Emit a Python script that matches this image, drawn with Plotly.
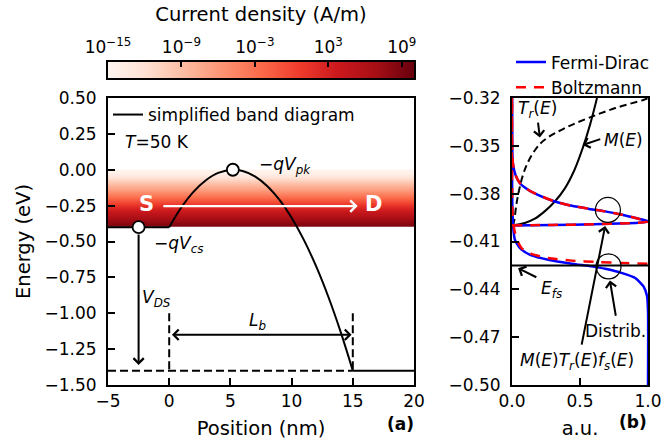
import plotly.graph_objects as go

FONT = "DejaVu Sans"

# ---------------- panel (a): simplified band diagram ----------------
barrier_x = [0, 1, 2, 3, 4, 5.2, 6, 7, 8, 9, 10, 11, 12, 13, 14, 15]
barrier_E = [-0.400, -0.261, -0.152, -0.073, -0.022, 0.000, -0.009, -0.046,
             -0.113, -0.209, -0.334, -0.489, -0.672, -0.885, -1.128, -1.400]
flat_x = [-5, 0, None, 15, 20]
flat_E = [-0.4, -0.4, None, -1.4, -1.4]
drain_ref_x = [-5, 15]
drain_ref_E = [-1.4, -1.4]
edge_x = [0, 0, None, 15, 15]
edge_E = [-1.0, -1.4, None, -1.0, -1.4]
marker_x = [-2.5, 5.2]
marker_E = [-0.4, 0.0]

# current density band (log10 of A/m) vs energy
band_E = [-0.38, -0.34, -0.30, -0.26, -0.22, -0.18, -0.14, -0.10, -0.06, -0.02]
band_logJ = [8.6, 6.8, 4.5, 2.0, -0.5, -3.5, -6.5, -9.0, -11.5, -14.5]
band_x = [-5, 20]

cb_range = [-15, 10]
cb_ticks = [-15, -9, -3, 3, 9]
cb_ticktext = ["10<sup>−15</sup>", "10<sup>−9</sup>", "10<sup>−3</sup>",
               "10<sup>3</sup>", "10<sup>9</sup>"]

# ---------------- panel (b): distributions ----------------
tr_x = [0.005, 0.015, 0.032, 0.05, 0.081, 0.12, 0.18, 0.24, 0.39, 0.56, 0.76, 0.97, 1.0]
tr_E = [-0.400, -0.3974, -0.3869, -0.3786, -0.3681, -0.3598, -0.3514, -0.3462,
        -0.3388, -0.3326, -0.3263, -0.3211, -0.3200]
m_x = [0.0, 0.094, 0.168, 0.24, 0.315, 0.39, 0.46, 0.52, 0.574, 0.625]
m_E = [-0.3999, -0.3984, -0.3957, -0.3911, -0.3849, -0.3765, -0.365, -0.3514, -0.3367, -0.3200]

fd_prod_x = [0.0, 0.30, 0.60, 0.85, 0.95, 1.0, 0.99, 0.93, 0.81, 0.685, 0.56, 0.44,
             0.315, 0.19, 0.118, 0.057, 0.025, 0.008, 0.002, 0.0]
fd_prod_E = [-0.3999, -0.3996, -0.3992, -0.3986, -0.3981, -0.3975, -0.3970, -0.3957,
             -0.3932, -0.3911, -0.3894, -0.3876, -0.3849, -0.3807, -0.3775, -0.3733,
             -0.3681, -0.3618, -0.355, -0.32]
fd_dist_x = [0.0, 0.003, 0.012, 0.02, 0.032, 0.07, 0.143, 0.266, 0.44, 0.586, 0.685,
             0.81, 0.906, 0.967, 0.993, 1.0, 1.0]
fd_dist_E = [-0.32, -0.39, -0.4040, -0.4085, -0.4109, -0.4151, -0.4187, -0.4214,
             -0.4239, -0.4256, -0.4271, -0.4298, -0.4329, -0.4382, -0.4444, -0.4538, -0.50]

bz_prod_x = [0.0, 0.30, 0.60, 0.85, 0.95, 1.0, 0.99, 0.93, 0.81, 0.685, 0.56, 0.44,
             0.315, 0.19, 0.118, 0.057, 0.025, 0.008, 0.002, 0.0]
bz_prod_E = [-0.3999, -0.3996, -0.3992, -0.3986, -0.3981, -0.3975, -0.3970, -0.3957,
             -0.3932, -0.3911, -0.3894, -0.3876, -0.3849, -0.3807, -0.3775, -0.3733,
             -0.3681, -0.3618, -0.355, -0.32]
bz_dist_x = [0.0, 0.003, 0.015, 0.032, 0.07, 0.143, 0.266, 0.44, 0.635, 0.81, 1.0]
bz_dist_E = [-0.32, -0.39, -0.4015, -0.4078, -0.4141, -0.4178, -0.4203, -0.4220,
             -0.4229, -0.4235, -0.4240]

efs_x = [0, 1]
efs_E = [-0.425, -0.425]
circle_x = [0.705, 0.71]
circle_E = [-0.3902, -0.4256]

W, H = 671, 440
def px(x):
    return x / W
def py(y):
    return 1 - y / H

fig = go.Figure()

# band heatmap (panel a)
fig.add_trace(go.Heatmap(
    x=band_x, y=band_E, z=[[v, v] for v in band_logJ],
    colorscale="Reds", zmin=cb_range[0], zmax=cb_range[1], zsmooth="best",
    showscale=False, hoverinfo="skip", xaxis="x", yaxis="y"))

# colour bar drawn as its own strip
fig.add_trace(go.Heatmap(
    x=cb_range, y=[0, 1], z=[cb_range, cb_range],
    colorscale="Reds", zmin=cb_range[0], zmax=cb_range[1], zsmooth="best",
    showscale=False, hoverinfo="skip", xaxis="x3", yaxis="y3"))

fig.add_trace(go.Scatter(x=drain_ref_x, y=drain_ref_E, mode="lines",
                         line=dict(color="black", width=2, dash="8px,4px"),
                         showlegend=False, xaxis="x", yaxis="y"))
fig.add_trace(go.Scatter(x=edge_x, y=edge_E, mode="lines",
                         line=dict(color="black", width=2, dash="8px,4px"),
                         showlegend=False, xaxis="x", yaxis="y"))
fig.add_trace(go.Scatter(x=flat_x, y=flat_E, mode="lines",
                         line=dict(color="black", width=2),
                         showlegend=False, xaxis="x", yaxis="y"))
fig.add_trace(go.Scatter(x=barrier_x, y=barrier_E, mode="lines",
                         line=dict(color="black", width=2, shape="spline"),
                         name="simplified band diagram", legend="legend",
                         xaxis="x", yaxis="y"))
fig.add_trace(go.Scatter(x=marker_x, y=marker_E, mode="markers",
                         marker=dict(symbol="circle", size=12, color="white",
                                     line=dict(color="black", width=1.8)),
                         showlegend=False, xaxis="x", yaxis="y"))

# panel b
fig.add_trace(go.Scatter(x=tr_x, y=tr_E, mode="lines",
                         line=dict(color="black", width=2, dash="7px,4px", shape="spline"),
                         showlegend=False, xaxis="x2", yaxis="y2"))
fig.add_trace(go.Scatter(x=m_x, y=m_E, mode="lines",
                         line=dict(color="black", width=2, shape="spline"),
                         showlegend=False, xaxis="x2", yaxis="y2"))
fig.add_trace(go.Scatter(x=fd_dist_x, y=fd_dist_E, mode="lines", name="Fermi-Dirac",
                         line=dict(color="blue", width=2.5, shape="spline", smoothing=0.6),
                         legend="legend2", xaxis="x2", yaxis="y2"))
fig.add_trace(go.Scatter(x=fd_prod_x, y=fd_prod_E, mode="lines",
                         line=dict(color="blue", width=2.5, shape="spline", smoothing=0.6),
                         showlegend=False, xaxis="x2", yaxis="y2"))
fig.add_trace(go.Scatter(x=bz_dist_x, y=bz_dist_E, mode="lines", name="Boltzmann",
                         line=dict(color="red", width=2.5, dash="10px,8px", shape="spline", smoothing=0.6),
                         legend="legend2", xaxis="x2", yaxis="y2"))
fig.add_trace(go.Scatter(x=bz_prod_x, y=bz_prod_E, mode="lines",
                         line=dict(color="red", width=2.5, dash="10px,8px", shape="spline", smoothing=0.6),
                         showlegend=False, xaxis="x2", yaxis="y2"))
fig.add_trace(go.Scatter(x=efs_x, y=efs_E, mode="lines",
                         line=dict(color="black", width=2),
                         showlegend=False, xaxis="x2", yaxis="y2"))
fig.add_trace(go.Scatter(x=circle_x, y=circle_E, mode="markers",
                         marker=dict(symbol="circle-open", size=25,
                                     line=dict(color="black", width=1.2), color="black"),
                         showlegend=False, xaxis="x2", yaxis="y2"))

tickfont = dict(family=FONT, size=17, color="black")
titlefont = dict(family=FONT, size=19.5, color="black")
common = dict(showline=True, linecolor="black", linewidth=2, mirror=True,
              ticks="inside", ticklen=7, tickwidth=1.5, tickcolor="black",
              showgrid=False, zeroline=False, tickfont=tickfont, automargin=False)

xa_dom = [px(108), px(414)]
xb_dom = [px(512), px(648)]
y_dom = [py(385), py(98)]

fig.update_layout(
    width=W, height=H, margin=dict(l=0, r=0, t=0, b=0),
    paper_bgcolor="white", plot_bgcolor="white",
    font=dict(family=FONT, size=17, color="black"),
    xaxis=dict(domain=xa_dom, range=[-5, 20], tickvals=[-5, 0, 5, 10, 15, 20],
               anchor="y", title=dict(text="Position (nm)", font=titlefont, standoff=14),
               ticklabelstandoff=0, **common),
    yaxis=dict(domain=y_dom, range=[-1.5, 0.5],
               tickvals=[-1.5, -1.25, -1.0, -0.75, -0.5, -0.25, 0, 0.25, 0.5],
               tickformat=".2f", anchor="x",
               title=dict(text="Energy (eV)", font=titlefont, standoff=9),
               ticklabelstandoff=6, **common),
    xaxis2=dict(domain=xb_dom, range=[0, 1], tickvals=[0, 0.5, 1], tickformat=".1f",
                anchor="y2", title=dict(text="a.u.", font=titlefont, standoff=14),
                ticklabelstandoff=0, **common),
    yaxis2=dict(domain=y_dom, range=[-0.50, -0.32],
                tickvals=[-0.50, -0.47, -0.44, -0.41, -0.38, -0.35, -0.32],
                tickformat=".2f", anchor="x2", ticklabelstandoff=6, **common),
    xaxis3=dict(domain=xa_dom, range=cb_range, tickvals=cb_ticks, ticktext=cb_ticktext,
                side="top", anchor="y3", showline=True, linecolor="black", linewidth=2,
                mirror=True, ticks="inside", ticklen=5, tickwidth=1.5, tickcolor="black",
                showgrid=False, zeroline=False, tickfont=tickfont, automargin=False,
                ticklabelstandoff=0,
                title=dict(text="Current density (A/m)", font=titlefont, standoff=8)),
    yaxis3=dict(domain=[py(78), py(62)], range=[0, 1], showticklabels=False, ticks="",
                showline=True, linecolor="black", linewidth=2, mirror=True,
                showgrid=False, zeroline=False, anchor="x3", automargin=False),
    legend=dict(x=px(108), y=py(115), xanchor="left", yanchor="middle",
                bgcolor="rgba(0,0,0,0)", borderwidth=0, itemwidth=30,
                font=dict(family=FONT, size=17, color="black")),
    legend2=dict(x=px(511), y=py(75), xanchor="left", yanchor="middle",
                 bgcolor="rgba(0,0,0,0)", borderwidth=0, itemwidth=30, tracegroupgap=0,
                 font=dict(family=FONT, size=17, color="black")),
)

ann = []
def text(x, y, s, xref="x", yref="y", size=17, color="black", xanchor="center"):
    ann.append(dict(x=x, y=y, xref=xref, yref=yref, text=s, showarrow=False,
                    xanchor=xanchor, yanchor="middle",
                    font=dict(family=FONT, size=size, color=color)))

def arrow(x0, y0, x1, y1, xref="x", yref="y", color="black", width=2, both=False):
    a = dict(x=x1, y=y1, ax=x0, ay=y0, xref=xref, yref=yref, axref=xref, ayref=yref,
             text="", showarrow=True, arrowhead=4, arrowsize=1, arrowwidth=width,
             arrowcolor=color, standoff=0, startstandoff=0)
    if both:
        a["arrowside"] = "end+start"
        a["startarrowhead"] = 4
        a["startarrowsize"] = 1
    ann.append(a)

# panel a labels
text(-3.8, 0.195, "<i>T</i>=50 K", xanchor="left")
text(9.46, 0.033, "−<i>qV</i><sub><i>pk</i></sub>")
text(0.72, -0.524, "−<i>qV</i><sub><i>cs</i></sub>")
text(-1.85, -0.24, "<b>S</b>", size=21, color="white")
text(16.7, -0.24, "<b>D</b>", size=21, color="white")
arrow(-0.6, -0.253, 15.4, -0.253, color="white", width=2.2)
arrow(-2.5, -0.44, -2.5, -1.36)
text(-1.05, -0.894, "<i>V</i><sub><i>DS</i></sub>")
arrow(0.1, -1.15, 14.9, -1.15, both=True)
text(7.25, -1.06, "<i>L</i><sub><i>b</i></sub>")

# panel b labels
text(0.19, -0.3273, "<i>T</i><sub><i>r</i></sub>(<i>E</i>)", "x2", "y2")
arrow(0.19, -0.3345, 0.205, -0.3448, "x2", "y2")
text(0.82, -0.3462, "<i>M</i>(<i>E</i>)", "x2", "y2")
arrow(0.66, -0.3455, 0.52, -0.3495, "x2", "y2")
text(0.475, -0.4852,
     "<i>M</i>(<i>E</i>)<i>T</i><sub><i>r</i></sub>(<i>E</i>)<i>f</i><sub><i>s</i></sub>(<i>E</i>)",
     "x2", "y2")
arrow(0.51, -0.4756, 0.685, -0.4003, "x2", "y2")
text(0.76, -0.4664, "Distrib.", "x2", "y2")
arrow(0.765, -0.4575, 0.72, -0.4345, "x2", "y2")
text(0.29, -0.4402, "<i>E</i><sub><i>fs</i></sub>", "x2", "y2")
arrow(0.19, -0.4329, 0.045, -0.4268, "x2", "y2")

# panel tags
ann.append(dict(x=px(400), y=py(424), xref="paper", yref="paper", text="<b>(a)</b>",
                showarrow=False, xanchor="center", yanchor="middle",
                font=dict(family=FONT, size=17, color="black")))
ann.append(dict(x=px(633), y=py(422), xref="paper", yref="paper", text="<b>(b)</b>",
                showarrow=False, xanchor="center", yanchor="middle",
                font=dict(family=FONT, size=17, color="black")))

fig.update_layout(annotations=ann)

fig.write_html("out.html", config={"displayModeBar": False},
               post_script="document.body.style.margin='0';")
